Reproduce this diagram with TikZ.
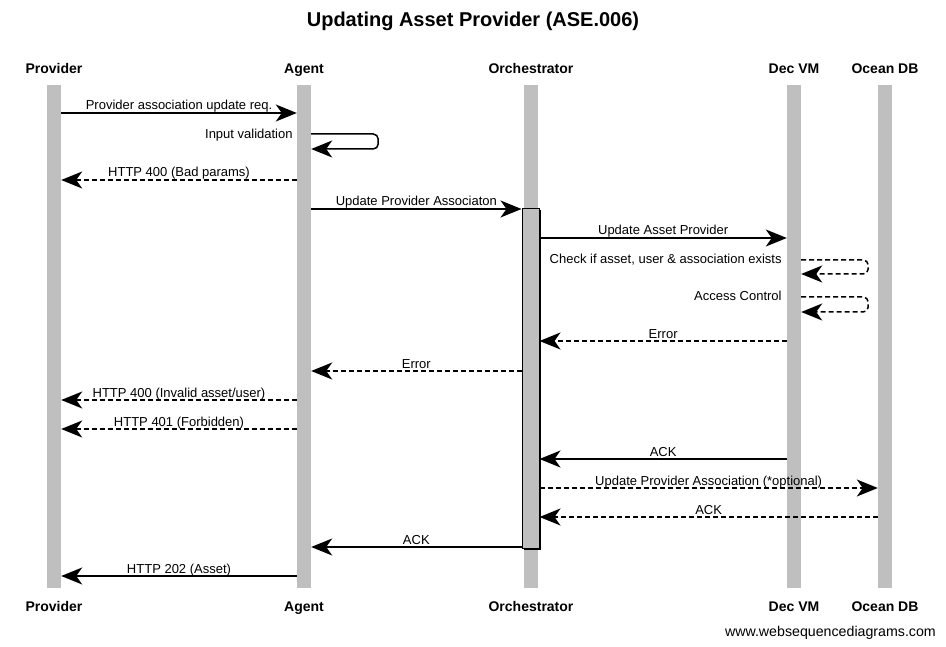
\documentclass[tikz,border=0pt]{standalone}
\usepackage{fontspec}
\setmainfont{Liberation Sans}
\usetikzlibrary{arrows.meta,shadows}
\definecolor{lifegray}{RGB}{191,191,191}

\begin{document}
\begin{tikzpicture}[x=1pt, y=-1pt, life/.style={fill=lifegray, minimum width=14pt, minimum height=503pt, inner sep=0pt}, actor/.style={font=\fontsize{14}{16}\selectfont\bfseries, inner sep=0pt, anchor=base}, lbl/.style={font=\fontsize{13}{15}\selectfont, inner sep=0pt, anchor=base, yshift=3pt}, note/.style={font=\fontsize{13}{15}\selectfont, inner sep=0pt, anchor=base east}, msg/.style={line width=1.5pt, -{Stealth[length=21pt, width=17pt, inset=6pt]}}, ret/.style={msg, dash pattern=on 5pt off 3pt}, act/.style={draw, line width=1pt, fill=lifegray, minimum width=17pt, minimum height=339pt, inner sep=0pt, drop shadow={shadow xshift=1.5pt, shadow yshift=-1.5pt, fill=black, opacity=1}}]
    \useasboundingbox (0,0) rectangle (946,647);
    % title
    \node[font=\fontsize{20}{24}\selectfont\bfseries] (title) at (473,21) {Updating Asset Provider (ASE.006)};
    % lifelines
    \node[life] (prov) at (54,336.5) {};
    \node[life] (agent) at (304,336.5) {};
    \node[life] (orch) at (531,336.5) {};
    \node[life] (dvm) at (794,336.5) {};
    \node[life] (odb) at (885,336.5) {};
    \node[act] (orchact) at (530.5,378.5) {};
    % participants
    \node[actor] (provtop) at (54,74) {Provider};
    \node[actor] (agenttop) at (304,74) {Agent};
    \node[actor] (orchtop) at (531,74) {Orchestrator};
    \node[actor] (dvmtop) at (794,74) {Dec VM};
    \node[actor] (odbtop) at (885,74) {Ocean DB};
    \node[actor] (provbot) at (54,611) {Provider};
    \node[actor] (agentbot) at (304,611) {Agent};
    \node[actor] (orchbot) at (531,611) {Orchestrator};
    \node[actor] (dvmbot) at (794,611) {Dec VM};
    \node[actor] (odbbot) at (885,611) {Ocean DB};
    % self notes
    \node[note] (inval) at ([xshift=-4pt]agent.west |- 0,139) {Input validation};
    \node[note] (check) at ([xshift=-5pt]dvm.west |- 0,264) {Check if asset, user \& association exists};
    \node[note] (access) at ([xshift=-5pt]dvm.west |- 0,301) {Access Control};
    % messages
    \draw[msg] (prov.east |- 0,113) -- (agent.west |- 0,113) node[lbl, midway] {Provider association update req.};
    \draw[msg, rounded corners=5pt] (agent.east |- 0,134) -| ++(67,15) -- (agent.east |- 0,149);
    \draw[ret] (agent.west |- 0,180) -- (prov.east |- 0,180) node[lbl, midway] {HTTP 400 (Bad params)};
    \draw[msg] (agent.east |- 0,209) -- (orchact.west |- 0,209) node[lbl, midway] {Update Provider Associaton};
    \draw[msg] (orchact.east |- 0,238) -- (dvm.west |- 0,238) node[lbl, midway] {Update Asset Provider};
    \draw[ret, rounded corners=5pt] (dvm.east |- 0,260) -| ++(67,14) -- (dvm.east |- 0,274);
    \draw[ret, rounded corners=5pt] (dvm.east |- 0,297) -| ++(67,15) -- (dvm.east |- 0,312);
    \draw[ret] (dvm.west |- 0,341) -- (orchact.east |- 0,341) node[lbl, midway] {Error};
    \draw[ret] (orchact.west |- 0,371) -- (agent.east |- 0,371) node[lbl, midway] {Error};
    \draw[ret] (agent.west |- 0,400) -- (prov.east |- 0,400) node[lbl, midway] {HTTP 400 (Invalid asset/user)};
    \draw[ret] (agent.west |- 0,429) -- (prov.east |- 0,429) node[lbl, midway] {HTTP 401 (Forbidden)};
    \draw[msg] (dvm.west |- 0,459) -- (orchact.east |- 0,459) node[lbl, midway] {ACK};
    \draw[ret] (orchact.east |- 0,488) -- (odb.west |- 0,488) node[lbl, midway] {Update Provider Association (*optional)};
    \draw[ret] (odb.west |- 0,517) -- (orchact.east |- 0,517) node[lbl, midway] {ACK};
    \draw[msg] (orchact.west |- 0,547) -- (agent.east |- 0,547) node[lbl, midway] {ACK};
    \draw[msg] (agent.west |- 0,576) -- (prov.east |- 0,576) node[lbl, midway] {HTTP 202 (Asset)};
    % footer
    \node[note, font=\fontsize{14.2}{16}\selectfont] (site) at (936,636) {www.websequencediagrams.com};
\end{tikzpicture}
\end{document}
